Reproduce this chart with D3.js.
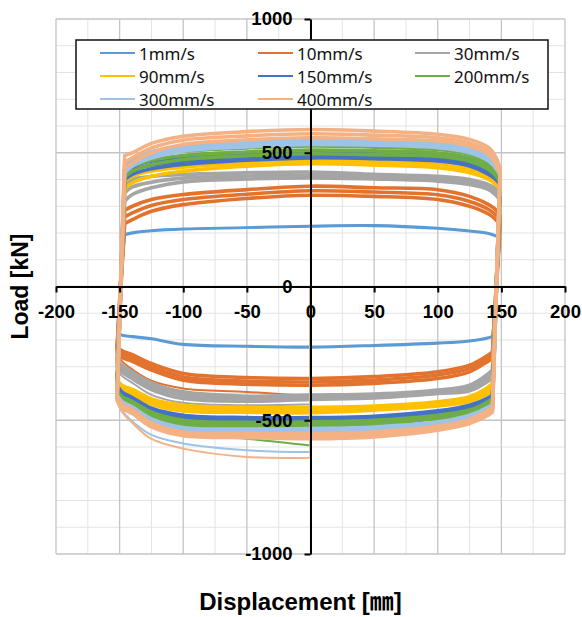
<!DOCTYPE html>
<html>
<head>
<meta charset="utf-8">
<script src="https://cdn.jsdelivr.net/npm/d3@7"></script>
<style>
  body { margin: 0; background: #fff; }
  svg { display: block; }
</style>
</head>
<body>
<div id="vis"></div>
<script>
// legend labels and series colours
const speeds = ['1mm/s', '10mm/s', '30mm/s', '90mm/s', '150mm/s', '200mm/s', '300mm/s', '400mm/s']
const colors = ['#5B9BD5', '#E2732E', '#A5A5A5', '#FFC000', '#4472C4', '#70AD47', '#9DC3E6', '#F4B183']

const upperX = [-146, -140, -125, -100, -50, 0, 50, 100, 125, 140, 146, 149]
const lowerX = [143, 140, 125, 100, 50, 0, -50, -100, -125, -140, -148, -152]
const firstX = [0, -50, -100, -125, -140, -148, -152]

const xTicks = [-200, -150, -100, -50, 0, 50, 100, 150, 200]
const yTicks = [-1000, -500, 0, 500, 1000]

// load (kN) per cycle, upper branch (left -> right) and lower branch (right -> left)
const s1Upper = [
  [195, 202, 210, 216, 221, 227, 229, 219, 209, 200, 190, 180],
  [192, 199, 207, 214, 219, 224, 226, 216, 206, 197, 187, 177]
]
const s1Lower = [
  [-185, -190, -202, -210, -219, -225, -222, -215, -194, -186, -181, -170],
  [-188, -193, -205, -213, -222, -228, -225, -218, -197, -189, -184, -173]
]

const s10Upper = [
  [285, 300, 325, 344, 362, 375, 369, 362, 337, 306, 285, 265],
  [260, 275, 303, 325, 345, 358, 353, 343, 318, 288, 266, 248],
  [235, 250, 281, 306, 329, 341, 337, 325, 300, 271, 248, 230]
]
const s10Lower = [
  [-245, -255, -294, -319, -337, -344, -340, -325, -288, -255, -240, -225],
  [-258, -266, -306, -331, -350, -357, -353, -338, -300, -268, -252, -235],
  [-270, -278, -319, -344, -362, -369, -365, -350, -312, -280, -265, -245]
]
const s10First = [-410, -394, -381, -352, -310, -280, -255]

const s30Upper = [
  [380, 400, 412, 419, 425, 428, 419, 412, 400, 381, 365, 345],
  [350, 372, 390, 405, 413, 417, 410, 403, 390, 371, 352, 332],
  [320, 344, 369, 391, 402, 406, 402, 394, 381, 362, 340, 320]
]
const s30Lower = [
  [-312, -325, -369, -387, -402, -406, -410, -394, -360, -320, -295, -275],
  [-326, -338, -380, -394, -410, -414, -420, -406, -372, -332, -308, -288],
  [-340, -352, -390, -400, -417, -422, -429, -419, -385, -345, -320, -300]
]
const s30First = [-440, -444, -435, -405, -360, -335, -310]

const s90Upper = [
  [420, 437, 452, 462, 475, 481, 475, 469, 450, 425, 405, 385],
  [392, 412, 432, 446, 462, 470, 465, 456, 437, 412, 392, 372],
  [365, 387, 412, 431, 450, 459, 454, 444, 425, 400, 380, 360]
]
const s90Lower = [
  [-360, -375, -412, -431, -447, -452, -452, -444, -420, -385, -370, -350],
  [-375, -388, -421, -439, -455, -462, -461, -455, -430, -395, -383, -362],
  [-390, -400, -430, -447, -462, -472, -470, -465, -440, -405, -395, -375]
]
const s90First = [-520, -500, -490, -460, -420, -400, -380]

const s150Upper = [
  [435, 450, 468, 481, 493, 500, 496, 487, 471, 444, 425, 405],
  [418, 435, 454, 468, 482, 490, 487, 478, 460, 432, 411, 392],
  [400, 419, 440, 456, 472, 481, 478, 469, 450, 419, 398, 380]
]
const s150Lower = [
  [-405, -415, -444, -465, -485, -490, -490, -481, -455, -415, -395, -370],
  [-418, -428, -452, -472, -491, -497, -497, -489, -462, -423, -402, -378],
  [-430, -440, -460, -480, -497, -504, -504, -497, -470, -432, -410, -385]
]

const s200Upper = [
  [450, 469, 490, 506, 518, 525, 521, 512, 494, 462, 440, 415],
  [430, 450, 472, 490, 503, 510, 507, 499, 481, 450, 426, 402],
  [410, 431, 455, 475, 489, 496, 493, 487, 468, 437, 412, 390]
]
const s200Lower = [
  [-420, -430, -462, -481, -500, -506, -508, -500, -470, -430, -412, -390],
  [-432, -442, -471, -488, -508, -515, -518, -510, -480, -440, -421, -398],
  [-445, -455, -480, -494, -515, -525, -528, -520, -490, -450, -430, -405]
]
const s200First = [-594, -569, -550, -520, -470, -440, -410]

const s300Upper = [
  [460, 481, 505, 525, 541, 550, 544, 534, 519, 487, 462, 440],
  [442, 465, 492, 515, 531, 540, 536, 527, 510, 478, 451, 428],
  [425, 450, 480, 506, 522, 531, 528, 519, 500, 469, 440, 415]
]
const s300Lower = [
  [-440, -450, -481, -506, -525, -531, -533, -527, -495, -450, -430, -405],
  [-450, -460, -489, -513, -534, -540, -541, -534, -503, -457, -437, -412],
  [-460, -470, -497, -520, -543, -550, -550, -542, -512, -465, -445, -420]
]
const s300First = [-619, -612, -587, -555, -505, -465, -430]

const s400Upper = [
  [490, 500, 535, 562, 579, 587, 581, 569, 550, 519, 480, 440],
  [465, 481, 518, 547, 563, 571, 566, 556, 537, 506, 468, 430],
  [440, 462, 500, 531, 548, 556, 552, 544, 525, 494, 455, 420]
]
const s400Lower = [
  [-455, -462, -497, -522, -544, -550, -550, -544, -510, -460, -440, -410],
  [-462, -471, -505, -530, -553, -560, -558, -551, -518, -468, -448, -418],
  [-470, -480, -512, -537, -562, -569, -565, -558, -525, -475, -455, -425]
]
const s400First = [-640, -637, -606, -570, -510, -470, -430]

const uppers = [s1Upper, s10Upper, s30Upper, s90Upper, s150Upper, s200Upper, s300Upper, s400Upper]
const lowers = [s1Lower, s10Lower, s30Lower, s90Lower, s150Lower, s200Lower, s300Lower, s400Lower]
const firsts = [null, s10First, s30First, s90First, null, s200First, s300First, s400First]

const W = 582, H = 617
const plot = { left: 56, right: 565, top: 19, bottom: 554 }
const tickFont = '"Liberation Sans", Arial, sans-serif'

const svg = d3.select('#vis').append('svg')
  .attr('width', W)
  .attr('height', H)

const x = d3.scaleLinear().domain([-200, 200]).range([plot.left, plot.right])
const y = d3.scaleLinear().domain([-1000, 1000]).range([plot.bottom, plot.top])

// gridlines: minor first, major on top
const grid = svg.append('g').attr('class', 'grid')
d3.range(-200, 201, 25).filter(v => v % 50 !== 0).forEach(v => {
  grid.append('line').attr('x1', x(v)).attr('x2', x(v)).attr('y1', plot.top).attr('y2', plot.bottom)
    .attr('stroke', '#e3e3e3').attr('stroke-width', 1)
})
d3.range(-1000, 1001, 100).filter(v => v % 500 !== 0).forEach(v => {
  grid.append('line').attr('x1', plot.left).attr('x2', plot.right).attr('y1', y(v)).attr('y2', y(v))
    .attr('stroke', '#e3e3e3').attr('stroke-width', 1)
})
d3.range(-200, 201, 50).forEach(v => {
  grid.append('line').attr('x1', x(v)).attr('x2', x(v)).attr('y1', plot.top).attr('y2', plot.bottom)
    .attr('stroke', '#c4c4c4').attr('stroke-width', 1.3)
})
d3.range(-1000, 1001, 500).forEach(v => {
  grid.append('line').attr('x1', plot.left).attr('x2', plot.right).attr('y1', y(v)).attr('y2', y(v))
    .attr('stroke', '#c4c4c4').attr('stroke-width', 1.3)
})

// hysteresis loops
const curve = d3.line()
  .x(d => x(d[0]))
  .y(d => y(d[1]))
  .curve(d3.curveCatmullRom.alpha(0.5))

function loopPath(up, lo) {
  const ptsU = upperX.map((v, i) => [v, up[i]])
  const ptsL = lowerX.map((v, i) => [v, lo[i]])
  return curve(ptsU) + curve(ptsL).replace(/^M/, 'L') + 'Z'
}

function firstPath(vals) {
  const pts = firstX.map((v, i) => [v, vals[i]])
  return 'M' + x(0) + ',' + y(0) + curve(pts).replace(/^M/, 'L')
}

const loops = svg.append('g').attr('class', 'loops')
speeds.forEach((s, k) => {
  const g = loops.append('g').attr('class', 'series')
  const sw = uppers[k].length > 2 ? 3.6 : 2.3
  uppers[k].forEach((up, c) => {
    g.append('path')
      .attr('d', loopPath(up, lowers[k][c]))
      .attr('fill', 'none')
      .attr('stroke', colors[k])
      .attr('stroke-width', sw)
      .attr('stroke-linejoin', 'round')
  })
  if (firsts[k]) {
    g.append('path')
      .attr('d', firstPath(firsts[k]))
      .attr('fill', 'none')
      .attr('stroke', colors[k])
      .attr('stroke-width', 2)
      .attr('stroke-linejoin', 'round')
  }
})

// axes crossing at the origin
const fmt = d => String(d)
const xAxis = svg.append('g')
  .attr('transform', `translate(0,${y(0)})`)
  .call(d3.axisBottom(x).tickValues(xTicks).tickFormat(fmt).tickSize(6).tickSizeOuter(0).tickPadding(12))
const yAxis = svg.append('g')
  .attr('transform', `translate(${x(0)},0)`)
  .call(d3.axisLeft(y).tickValues(yTicks).tickFormat(fmt).tickSize(6).tickSizeOuter(0).tickPadding(12))

;[xAxis, yAxis].forEach(a => {
  a.select('.domain').attr('stroke', '#000').attr('stroke-width', 2)
  a.selectAll('.tick line').attr('stroke', '#000').attr('stroke-width', 2)
  a.selectAll('.tick text')
    .attr('fill', '#000')
    .style('font-family', tickFont)
    .style('font-weight', 'bold')
    .style('font-size', '18.5px')
})

// axis titles
svg.append('text')
  .attr('transform', `translate(28,${y(0)}) rotate(-90)`)
  .attr('text-anchor', 'middle')
  .style('font-family', tickFont)
  .style('font-weight', 'bold')
  .style('font-size', '23px')
  .text('Load [kN]')

svg.append('text')
  .attr('x', 300.5)
  .attr('y', 610)
  .attr('text-anchor', 'middle')
  .style('font-family', '"Liberation Sans", Arial, "Noto Sans CJK KR", sans-serif')
  .style('font-weight', 'bold')
  .style('font-size', '24px')
  .text('Displacement [㎜]')

// legend
const legend = svg.append('g').attr('class', 'legend')
legend.append('rect')
  .attr('x', 76).attr('y', 40).attr('width', 472).attr('height', 69)
  .attr('fill', '#fff').attr('stroke', '#111').attr('stroke-width', 1.5)

const colX = [100, 258, 415]
const rowY = [53, 76, 99]
speeds.forEach((s, k) => {
  const cx = colX[k % 3], cy = rowY[Math.floor(k / 3)]
  legend.append('line')
    .attr('x1', cx).attr('x2', cx + 35).attr('y1', cy).attr('y2', cy)
    .attr('stroke', colors[k]).attr('stroke-width', 2)
  legend.append('text')
    .attr('x', cx + 39).attr('y', cy)
    .attr('dominant-baseline', 'central')
    .style('font-family', '"Noto Sans", sans-serif')
    .style('font-size', '17px')
    .attr('fill', '#111')
    .text(s)
})
</script>
</body>
</html>
